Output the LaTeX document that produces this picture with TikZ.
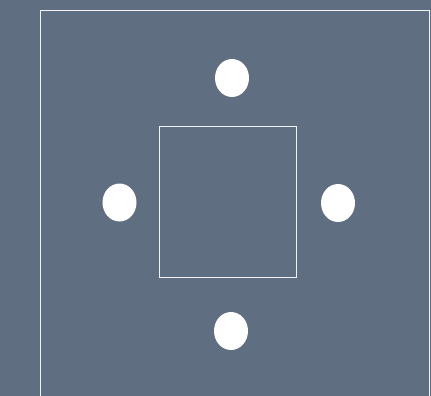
\documentclass[tikz,border=0pt]{standalone}
\usepackage{tikz}
\usetikzlibrary{shapes.geometric}
\definecolor{slatebg}{RGB}{95, 110, 128}
\definecolor{edgewhite}{RGB}{240, 242, 246}

\begin{document}
\begin{tikzpicture}[
    x=1pt, y=-1pt,
    frame/.style={draw=edgewhite, line width=1.3pt},
    hole/.style={ellipse, fill=white, draw=none, minimum width=34pt, minimum height=38pt, inner sep=0pt},
    core/.style={rectangle, draw=edgewhite, line width=1.3pt, minimum width=137pt, minimum height=151pt, inner sep=0pt},
]

\fill[slatebg] (0,0) rectangle (431,396);
\useasboundingbox (0,0) rectangle (431,396);

\begin{scope}
\clip (0,0) rectangle (431,396);
\draw[frame] (40.5,10.5) rectangle (429.5,420);
\end{scope}

\node[core] (square) at (228,202) {};

\node[hole] (top)    at (232,78) {};
\node[hole] (left)   at (119.5,202.5) {};
\node[hole] (right)  at (338,203) {};
\node[hole] (bottom) at (231,331) {};

\end{tikzpicture}
\end{document}
